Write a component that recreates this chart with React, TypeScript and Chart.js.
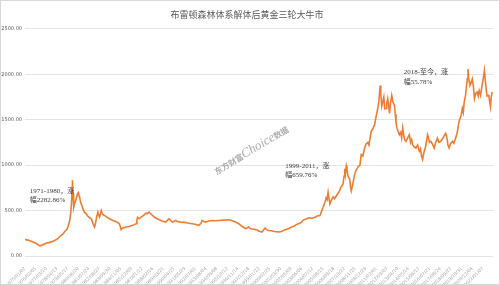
import React, { useEffect, useRef } from "react";
import { Chart, registerables } from "chart.js";

Chart.register(...registerables);

const titleText = "布雷顿森林体系解体后黄金三轮大牛市";

const years = [
  1975.0, 1975.31, 1975.71, 1976.12, 1976.53, 1976.84, 1977.14, 1977.55, 1977.96, 1978.37,
  1978.67, 1978.88, 1979.08, 1979.29, 1979.44, 1979.59, 1979.69, 1979.77, 1979.83, 1979.87,
  1979.93, 1980.0, 1980.1, 1980.2, 1980.31, 1980.41, 1980.48, 1980.56, 1980.61, 1980.71,
  1980.82, 1980.95, 1981.12, 1981.3, 1981.43, 1981.63, 1981.81, 1981.94, 1982.04, 1982.14,
  1982.24, 1982.35, 1982.48, 1982.55, 1982.65, 1982.76, 1982.83, 1982.96, 1983.16, 1983.37,
  1983.67, 1984.01, 1984.29, 1984.49, 1984.69, 1984.8, 1984.87, 1985.0, 1985.38, 1985.71,
  1986.05, 1986.22, 1986.4, 1986.48, 1986.56, 1986.73, 1986.91, 1987.14, 1987.42, 1987.55,
  1987.76, 1987.86, 1988.09, 1988.37, 1988.78, 1989.08, 1989.46, 1989.59, 1989.8, 1989.95,
  1990.13, 1990.48, 1990.61, 1990.99, 1991.33, 1991.63, 1991.84, 1992.17, 1992.45, 1992.86,
  1993.06, 1993.19, 1993.37, 1993.54, 1993.88, 1994.18, 1994.59, 1994.9, 1995.41, 1995.92,
  1996.22, 1996.6, 1996.94, 1997.24, 1997.62, 1997.76, 1997.96, 1998.16, 1998.47, 1998.78,
  1998.98, 1999.32, 1999.49, 1999.66, 1999.8, 2000.0, 2000.31, 2000.61, 2001.02, 2001.33,
  2001.63, 2002.04, 2002.38, 2002.65, 2002.86, 2003.06, 2003.37, 2003.57, 2003.91, 2004.18,
  2004.49, 2004.77, 2005.0, 2005.28, 2005.41, 2005.61, 2005.82, 2005.92, 2006.02, 2006.12,
  2006.3, 2006.43, 2006.63, 2006.79, 2006.97, 2007.14, 2007.3, 2007.45, 2007.65, 2007.76,
  2007.83, 2007.89, 2007.99, 2008.06, 2008.16, 2008.34, 2008.42, 2008.5, 2008.67, 2008.85,
  2008.98, 2009.18, 2009.39, 2009.52, 2009.69, 2009.87, 2010.0, 2010.2, 2010.31, 2010.54,
  2010.71, 2010.89, 2011.02, 2011.22, 2011.33, 2011.46, 2011.53, 2011.63, 2011.73, 2011.84,
  2011.94, 2012.07, 2012.14, 2012.24, 2012.35, 2012.42, 2012.55, 2012.65, 2012.76, 2012.93,
  2013.01, 2013.09, 2013.16, 2013.27, 2013.44, 2013.57, 2013.67, 2013.78, 2013.88, 2013.98,
  2014.11, 2014.29, 2014.46, 2014.59, 2014.69, 2014.8, 2014.95, 2015.13, 2015.31, 2015.48,
  2015.61, 2015.71, 2015.82, 2015.92, 2015.99, 2016.12, 2016.22, 2016.33, 2016.43, 2016.53,
  2016.66, 2016.84, 2017.01, 2017.14, 2017.35, 2017.5, 2017.68, 2017.86, 2018.01, 2018.19,
  2018.32, 2018.42, 2018.54, 2018.67, 2018.88, 2019.03, 2019.21, 2019.34, 2019.44, 2019.56,
  2019.69, 2019.8, 2019.9, 2020.0, 2020.1, 2020.23, 2020.31, 2020.41, 2020.48, 2020.56,
  2020.68, 2020.77, 2020.92, 2021.02, 2021.15, 2021.28, 2021.43, 2021.53, 2021.63, 2021.77,
  2021.89, 2021.99, 2022.09, 2022.17, 2022.24, 2022.38, 2022.45, 2022.62, 2022.7, 2022.79,
  2022.86, 2022.96,
];

const prices = [
  181, 175, 160, 140, 112, 125, 140, 150, 165, 190,
  225, 240, 270, 290, 330, 390, 470, 576, 700, 834,
  680, 536, 580, 609, 650, 690, 699, 660, 645, 590,
  560, 518, 480, 464, 440, 420, 410, 370, 340, 319,
  360, 430, 482, 450, 427, 470, 500, 460, 446, 430,
  410, 391, 380, 370, 355, 320, 290, 305, 319, 325,
  337, 345, 355, 390, 427, 410, 427, 445, 471, 465,
  482, 470, 446, 420, 399, 385, 373, 390, 410, 390,
  373, 391, 380, 373, 370, 365, 360, 355, 350, 337,
  360, 391, 380, 373, 385, 390, 388, 391, 395, 399,
  390, 373, 355, 330, 301, 305, 319, 300, 295, 290,
  275, 264, 285, 308, 290, 280, 278, 270, 264, 270,
  285, 300, 319, 330, 345, 355, 370, 395, 410, 420,
  415, 427, 440, 446, 480, 536, 600, 640, 620, 699,
  572, 610, 650, 630, 663, 690, 720, 760, 790, 880,
  960, 900, 989, 950, 880, 845, 760, 717, 800, 900,
  940, 980, 1000, 1116, 1100, 1188, 1230, 1250, 1220, 1370,
  1400, 1442, 1520, 1623, 1700, 1876, 1780, 1650, 1696, 1750,
  1620, 1623, 1680, 1732, 1650, 1569, 1700, 1768, 1700, 1660,
  1560, 1478, 1420, 1380, 1334, 1360, 1300, 1406, 1330, 1280,
  1261, 1300, 1334, 1250, 1280, 1225, 1200, 1188, 1220, 1152,
  1180, 1100, 1062, 1120, 1152, 1200, 1260, 1334, 1300, 1250,
  1261, 1230, 1188, 1240, 1297, 1250, 1261, 1290, 1320, 1351,
  1300, 1220, 1188, 1230, 1261, 1240, 1297, 1340, 1400, 1478,
  1520, 1560, 1623, 1580, 1700, 1768, 1850, 1950, 2058, 1950,
  1876, 1900, 1949, 1880, 1732, 1790, 1805, 1760, 1820, 1768,
  1850, 1920, 1980, 2040, 1950, 1805, 1760, 1768, 1700, 1641,
  1740, 1805,
];

const tickDates = [
  "1975/01/02", "1976/02/05", "1977/03/10", "1978/04/13", "1979/05/17", "1980/06/20",
  "1981/07/24", "1982/08/27", "1983/09/30", "1984/11/05", "1985/12/09", "1987/01/12",
  "1988/02/16", "1989/03/21", "1990/04/25", "1991/05/29", "1992/07/01", "1993/08/04",
  "1994/09/08", "1995/10/12", "1996/11/14", "1997/12/18", "1999/01/22", "2000/02/25",
  "2001/03/30", "2002/05/03", "2003/06/06", "2004/07/12", "2005/08/15", "2006/09/18",
  "2007/10/22", "2008/11/25", "2009/12/29", "2011/02/01", "2012/03/07", "2013/04/10",
  "2014/05/14", "2015/06/17", "2016/07/21", "2017/08/24", "2018/09/27", "2019/10/31",
  "2020/12/04", "2022/01/07",
];

const yTicks = [0, 500, 1000, 1500, 2000, 2500];

const note1 = ["1971-1980，涨", "幅2282.86%"];
const note2 = ["1999-2011，涨", "幅659.76%"];
const note3 = ["2018-至今，涨", "幅55.78%"];
const watermarkParts = ["东方财富", "Choice", "数据"];

function toYear(s: string): number {
  const [y, m, d] = s.split("/").map(Number);
  return y + (m - 1) / 12 + (d - 1) / 365;
}

const tickValues = tickDates.map(toYear);

const overlayPlugin = {
  id: "overlay",
  afterDraw(chart: any) {
    const ctx = chart.ctx;
    const xs = chart.scales.x;
    const ys = chart.scales.y;
    const notes = [
      { lines: note1, x: 1975.5, y: 717 },
      { lines: note2, x: 2001.73, y: 989 },
      { lines: note3, x: 2013.88, y: 2022 },
    ];
    ctx.save();
    ctx.fillStyle = "#3a3a3a";
    ctx.font = '7px "Liberation Serif", "Noto Sans CJK SC", serif';
    ctx.textBaseline = "middle";
    ctx.textAlign = "left";
    for (const n of notes) {
      const px = xs.getPixelForValue(n.x);
      const py = ys.getPixelForValue(n.y);
      n.lines.forEach((l: string, i: number) => ctx.fillText(l, px, py + i * 9.5));
    }
    ctx.restore();

    // watermark
    ctx.save();
    const cx = xs.getPixelForValue(1998.2);
    const cy = ys.getPixelForValue(1170);
    ctx.translate(cx, cy);
    ctx.rotate(-31 * Math.PI / 180);
    ctx.fillStyle = "rgba(115,115,115,0.6)";
    ctx.textBaseline = "alphabetic";
    const fonts = [
      'bold 8px "Noto Sans CJK SC", sans-serif',
      'italic 13px "Liberation Serif", serif',
      'bold 8px "Noto Sans CJK SC", sans-serif',
    ];
    let total = 0;
    const widths: number[] = [];
    watermarkParts.forEach((p, i) => {
      ctx.font = fonts[i];
      const w = ctx.measureText(p).width;
      widths.push(w);
      total += w;
    });
    let x = -total / 2;
    watermarkParts.forEach((p, i) => {
      ctx.font = fonts[i];
      ctx.fillText(p, x, 4);
      x += widths[i];
    });
    ctx.restore();
  },
};

export default function App() {
  const ref = useRef<HTMLCanvasElement>(null);
  useEffect(() => {
    if (!ref.current) return;
    const chart = new Chart(ref.current, {
      type: "line",
      data: {
        datasets: [
          {
            data: years.map((x, i) => ({ x, y: prices[i] })),
            borderColor: "#ED7D31",
            borderWidth: 1.6,
            pointRadius: 0,
            tension: 0,
            fill: false,
          },
        ],
      },
      options: {
        animation: false,
        responsive: false,
        maintainAspectRatio: false,
        layout: { padding: { left: 0, right: 6, top: 0, bottom: 0 } },
        plugins: {
          legend: { display: false },
          tooltip: { enabled: false },
          title: {
            display: true,
            text: titleText,
            color: "#595959",
            font: { size: 9, family: '"Noto Sans CJK SC", sans-serif', weight: "normal" },
            padding: { top: 8, bottom: 9 },
          },
        },
        scales: {
          x: {
            type: "linear",
            min: 1975,
            max: 2023.05,
            grid: { display: false },
            border: { display: false },
            afterBuildTicks: (scale: any) => {
              scale.ticks = tickValues.map((v) => ({ value: v }));
            },
            afterFit: (scale: any) => {
              scale.height = 28;
            },
            ticks: {
              autoSkip: false,
              minRotation: 45,
              maxRotation: 45,
              color: "#a6a6a6",
              font: { size: 4.5, family: "DejaVu Sans" },
              padding: 2,
              callback: (v: any) => {
                const idx = tickValues.findIndex((t) => Math.abs(t - v) < 1e-6);
                return idx >= 0 ? tickDates[idx] : "";
              },
            },
          },
          y: {
            min: 0,
            max: 2500,
            afterBuildTicks: (scale: any) => {
              scale.ticks = yTicks.map((v) => ({ value: v }));
            },
            afterFit: (scale: any) => {
              scale.width = 24;
            },
            grid: { color: "#e4e4e4", lineWidth: 1, drawTicks: false },
            border: { display: false },
            ticks: {
              color: "#595959",
              font: { size: 5, family: "DejaVu Sans" },
              padding: 3,
              callback: (v: any) => Number(v).toFixed(2),
            },
          },
        },
      },
      plugins: [overlayPlugin],
    });
    return () => chart.destroy();
  }, []);
  return (
    <div
      style={{
        position: "fixed",
        left: 0,
        top: 0,
        width: 500,
        height: 285,
        boxSizing: "border-box",
        border: "1px solid #d9d9d9",
        background: "#fff",
      }}
    >
      <canvas ref={ref} width={498} height={283} style={{ display: "block" }} />
    </div>
  );
}
